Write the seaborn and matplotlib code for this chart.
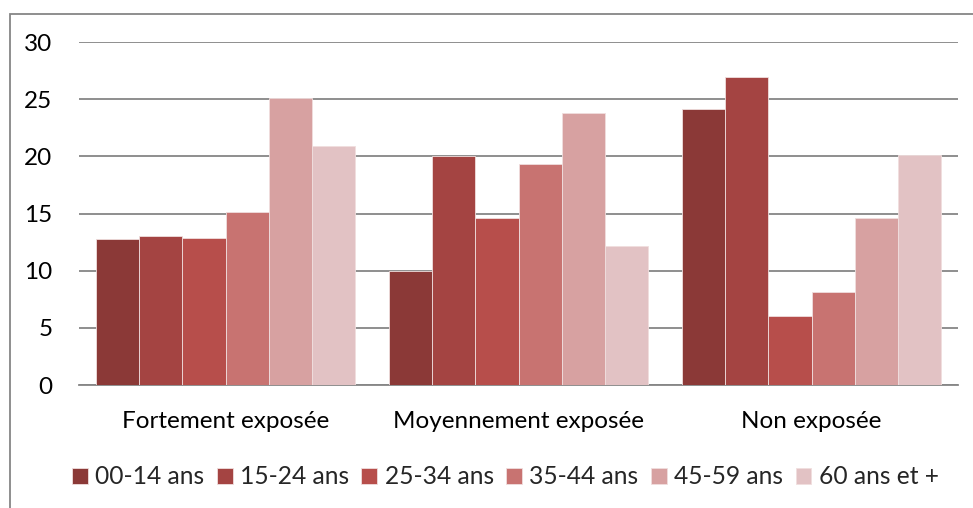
import pandas as pd
import matplotlib.pyplot as plt
import seaborn as sns
from matplotlib.patches import Rectangle

categories = ['Fortement exposée', 'Moyennement exposée', 'Non exposée']
age_groups = ['00-14 ans', '15-24 ans', '25-34 ans', '35-44 ans', '45-59 ans', '60 ans et +']
values = {
    '00-14 ans': [12.8, 10.0, 24.1],
    '15-24 ans': [13.0, 20.0, 26.9],
    '25-34 ans': [12.9, 14.6, 6.0],
    '35-44 ans': [15.1, 19.3, 8.1],
    '45-59 ans': [25.1, 23.8, 14.6],
    '60 ans et +': [20.9, 12.2, 20.1],
}
colors = ['#8B3937', '#A44442', '#B74E4B', '#C87371', '#D7A1A1', '#E2C2C4']

rows = []
for age in age_groups:
    for cat, v in zip(categories, values[age]):
        rows.append({'exposition': cat, 'age': age, 'pct': v})
df = pd.DataFrame(rows)

sns.set_theme(style='white')
plt.rcParams['font.family'] = ['Lato', 'DejaVu Sans']

fig = plt.figure(figsize=(9.73, 5.08), dpi=100)
ax = fig.add_axes([0.0812, 0.2421, 0.9034, 0.6752])

sns.barplot(data=df, x='exposition', y='pct', hue='age', order=categories,
            hue_order=age_groups, palette=colors, width=0.887, saturation=1,
            edgecolor='#f0dede', linewidth=0.6, ax=ax, zorder=3)

ax.set_ylim(0, 30)
ax.set_xlim(-0.5, 2.5)
ax.set_yticks(range(0, 31, 5))
ax.yaxis.grid(True, color='#868686', linewidth=1.3, zorder=0)
ax.set_axisbelow(True)
for s in ['top', 'right', 'left']:
    ax.spines[s].set_visible(False)
ax.spines['bottom'].set_color('#868686')
ax.spines['bottom'].set_linewidth(1.3)
ax.set_xlabel('')
ax.set_ylabel('')
ax.tick_params(axis='y', labelsize=17.5, pad=19, length=0, labelcolor='black')
ax.tick_params(axis='x', labelsize=17.5, pad=19, length=0, labelcolor='black')

ax.legend(loc='center', bbox_to_anchor=(0.485, -0.268), ncol=6, frameon=False,
          fontsize=17.7, handlelength=0.65, handleheight=0.65, handletextpad=0.3,
          columnspacing=0.5, borderaxespad=0)

# cadre du graphique
fig.patches.append(Rectangle((10 / 973, -0.1), 1.1, 1.1 - 14 / 508,
                             transform=fig.transFigure, fill=False,
                             edgecolor='#868686', linewidth=1.3))

fig.savefig('out.png', dpi=100)
